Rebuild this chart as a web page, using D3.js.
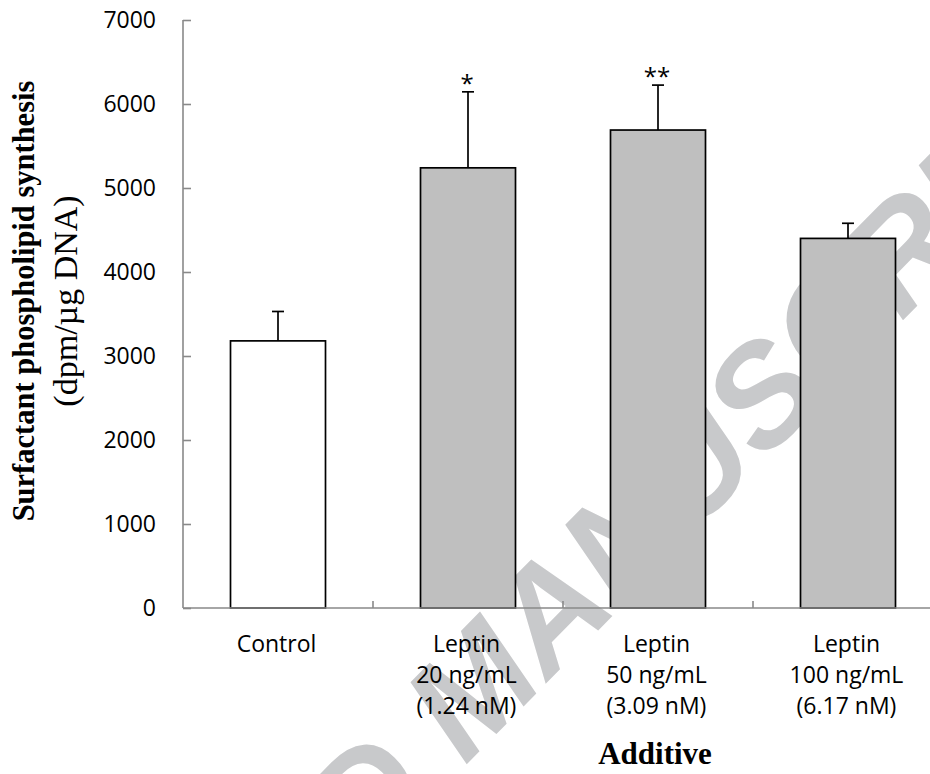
<!DOCTYPE html>
<html><head><meta charset="utf-8">
<script src="https://cdn.jsdelivr.net/npm/d3@7"></script>
<style>body{margin:0;background:#fff} svg{display:block}</style>
</head><body>
<svg id="c" width="930" height="774"></svg>
<script>
const categories = ["Control", "Leptin 20", "Leptin 50", "Leptin 100"];
const labelLines = [
  ["Control"],
  ["Leptin", "20 ng/mL", "(1.24 nM)"],
  ["Leptin", "50 ng/mL", "(3.09 nM)"],
  ["Leptin", "100 ng/mL", "(6.17 nM)"]
];
const means = [3180, 5240, 5690, 4400];
const errors = [350, 905, 535, 180];
const significance = ["", "*", "**", ""];
const fills = ["#ffffff", "#bfbfbf", "#bfbfbf", "#bfbfbf"];
const yTicks = [0, 1000, 2000, 3000, 4000, 5000, 6000, 7000];
const yTitle1 = "Surfactant phospholipid synthesis";
const yTitle2 = "(dpm/\u00b5g DNA)";
const xTitle = "Additive";
const watermark = "ACCEPTED MANUSCRIPT";

const svg = d3.select("#c");
const sans = "'Open Sans', sans-serif";
const serif = "'Liberation Serif', 'Times New Roman', serif";
const axisColor = "#898989";

const y = d3.scaleLinear().domain([0, 7000]).range([608, 20]);
const x = d3.scaleBand().domain(categories).range([183, 943]).paddingInner(0.5).paddingOuter(0.25);

// watermark (behind everything): "M" of MANUSCRIPT near (470,688), "S" near (760,393)
const wm = svg.append("text").text(watermark)
  .attr("font-family", "'Liberation Sans', Arial, sans-serif")
  .attr("font-weight", "bold").attr("font-style", "italic")
  .attr("font-size", 100).attr("fill", "#c8c9cb");
function ctr(i, fs) {
  const e = wm.node().getExtentOfChar(i);
  return [e.x + e.width / 2, -0.36 * fs];
}
const i1 = 9, i2 = 13;
let a0 = ctr(i1, 100), s0 = ctr(i2, 100);
const tA = [470, 688], tS = [760, 393];
const tDist = Math.hypot(tS[0] - tA[0], tS[1] - tA[1]);
const fs = 100 * tDist / (s0[0] - a0[0]);
wm.attr("font-size", fs);
const aC = ctr(i1, fs), sC = ctr(i2, fs);
const ang = Math.atan2(tS[1] - tA[1], tS[0] - tA[0]) * 180 / Math.PI;
const mid = [(aC[0] + sC[0]) / 2, (aC[1] + sC[1]) / 2];
wm.attr("transform", `translate(${(tA[0] + tS[0]) / 2},${(tA[1] + tS[1]) / 2}) rotate(${ang}) translate(${-mid[0]},${-mid[1]})`);

// bars
const data = categories.map((c, i) => ({c, m: means[i], e: errors[i], s: significance[i], f: fills[i]}));
svg.append("g").selectAll("rect").data(data).join("rect")
  .attr("x", d => x(d.c)).attr("width", x.bandwidth())
  .attr("y", d => y(d.m)).attr("height", d => y(0) - y(d.m))
  .attr("fill", d => d.f).attr("stroke", "#000").attr("stroke-width", 1.7);

// error bars
const eb = svg.append("g").attr("stroke", "#000").attr("stroke-width", 1.7);
data.forEach(d => {
  const cx = x(d.c) + x.bandwidth() / 2;
  eb.append("line").attr("x1", cx).attr("x2", cx).attr("y1", y(d.m)).attr("y2", y(d.m + d.e));
  eb.append("line").attr("x1", cx - 6).attr("x2", cx + 6).attr("y1", y(d.m + d.e)).attr("y2", y(d.m + d.e));
});

// significance
svg.append("g").selectAll("text").data(data.filter(d => d.s)).join("text")
  .attr("x", d => x(d.c) + x.bandwidth() / 2 - 1)
  .attr("y", d => y(d.m + d.e) + 0)
  .attr("text-anchor", "middle").attr("font-family", sans).attr("font-size", 24)
  .text(d => d.s);

// y axis
const yAxis = svg.append("g").attr("transform", "translate(183,0)")
  .call(d3.axisRight(y).tickValues(yTicks).tickSize(8).tickFormat(""));
yAxis.selectAll("path,line").attr("stroke", axisColor).attr("stroke-width", 1.6);
yAxis.select(".domain").attr("d", `M0,${y(7000)}V${y(0)}`);
svg.append("g").selectAll("text").data(yTicks).join("text")
  .attr("x", 156).attr("y", d => y(d)).attr("dy", "0.36em")
  .attr("text-anchor", "end").attr("font-family", sans).attr("font-size", 23)
  .attr("fill", "#000").text(d => d);

// x axis
const xAxis = svg.append("g");
xAxis.append("line").attr("x1", 183).attr("x2", 943).attr("y1", y(0)).attr("y2", y(0))
  .attr("stroke", axisColor).attr("stroke-width", 1.6);
categories.forEach((c) => {
  const bx = x(c) + x.bandwidth() / 2 + x.step() / 2;
  xAxis.append("line").attr("x1", bx).attr("x2", bx).attr("y1", y(0)).attr("y2", y(0) - 7)
    .attr("stroke", axisColor).attr("stroke-width", 1.6);
});

// category labels
const cl = svg.append("g").attr("font-family", sans).attr("font-size", 23).attr("text-anchor", "middle");
categories.forEach((c, i) => {
  const cx = x(c) + x.bandwidth() / 2 - 1.5;
  labelLines[i].forEach((t, j) => {
    cl.append("text").attr("x", cx).attr("y", 652 + j * 31).text(t);
  });
});

// axis titles
svg.append("text").attr("x", 655).attr("y", 764).attr("text-anchor", "middle")
  .attr("font-family", serif).attr("font-weight", "bold").attr("font-size", 31).text(xTitle);
svg.append("text").attr("transform", "translate(34,301) rotate(-90)").attr("text-anchor", "middle")
  .attr("font-family", serif).attr("font-weight", "bold").attr("font-size", 30.5).text(yTitle1);
svg.append("text").attr("transform", "translate(77,301) rotate(-90)").attr("text-anchor", "middle")
  .attr("font-family", serif).attr("font-size", 34).text(yTitle2);
</script>
</body></html>
